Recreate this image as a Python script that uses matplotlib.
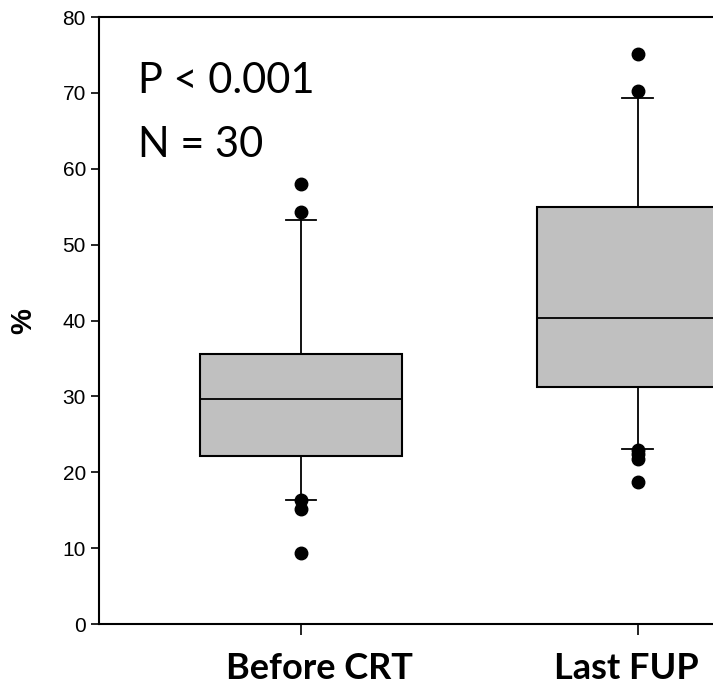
import numpy as np
import matplotlib.pyplot as plt

# box statistics (%)
groups = ["Before CRT", "Last FUP"]
q1 = [22.1, 31.3]
med = [29.6, 40.3]
q3 = [35.6, 55.0]
whislo = [16.3, 23.1]
whishi = [53.3, 69.3]
outliers = [[58.0, 54.3, 16.4, 15.1, 9.3],
            [75.1, 70.2, 23.0, 22.4, 21.8, 18.7]]

stats = []
for i in range(len(groups)):
    stats.append(dict(label=groups[i], q1=q1[i], med=med[i], q3=q3[i],
                      whislo=whislo[i], whishi=whishi[i], fliers=outliers[i]))

fig = plt.figure(figsize=(7.13, 6.85), dpi=100)
ax = fig.add_axes([0.139, 0.089, 0.861, 0.886])

ax.bxp(stats, positions=[1, 2], widths=0.6, capwidths=0.09, patch_artist=True,
       boxprops=dict(facecolor="#c0c0c0", edgecolor="black", linewidth=1.5),
       medianprops=dict(color="black", linewidth=1.3),
       whiskerprops=dict(color="black", linewidth=1.3),
       capprops=dict(color="black", linewidth=1.3),
       flierprops=dict(marker="o", markerfacecolor="black", markeredgecolor="black",
                       markersize=9, linestyle="none"))

ax.set_xlim(0.40, 2.224)
ax.set_ylim(0, 80)
ax.set_yticks(range(0, 81, 10))
ax.set_xticks([1, 2])
ax.set_xticklabels(["", ""])
# category names sit a little off their ticks in the original
shifts = [13, -8]
for i in range(len(groups)):
    ax.annotate(groups[i], xy=(i + 1, 0), xycoords=("data", "axes fraction"),
                xytext=(shifts[i], -20), textcoords="offset points",
                ha="center", va="top", fontsize=26, fontweight="bold", family="Lato")
ax.tick_params(axis="x", length=8, width=1.2)
ax.tick_params(axis="y", length=6, width=1.2, labelsize=15)
for lab in ax.get_yticklabels():
    lab.set_family("Liberation Sans")
ax.spines["right"].set_visible(False)
for s in ["left", "bottom", "top"]:
    ax.spines[s].set_linewidth(1.5)

ax.set_ylabel("%", fontsize=21, fontweight="bold", family="Liberation Sans", labelpad=18)

ax.text(0.516, 70, "P < 0.001", fontsize=30, family="Lato")
ax.text(0.516, 61.5, "N = 30", fontsize=30, family="Lato")

plt.savefig("out.png", dpi=100)
